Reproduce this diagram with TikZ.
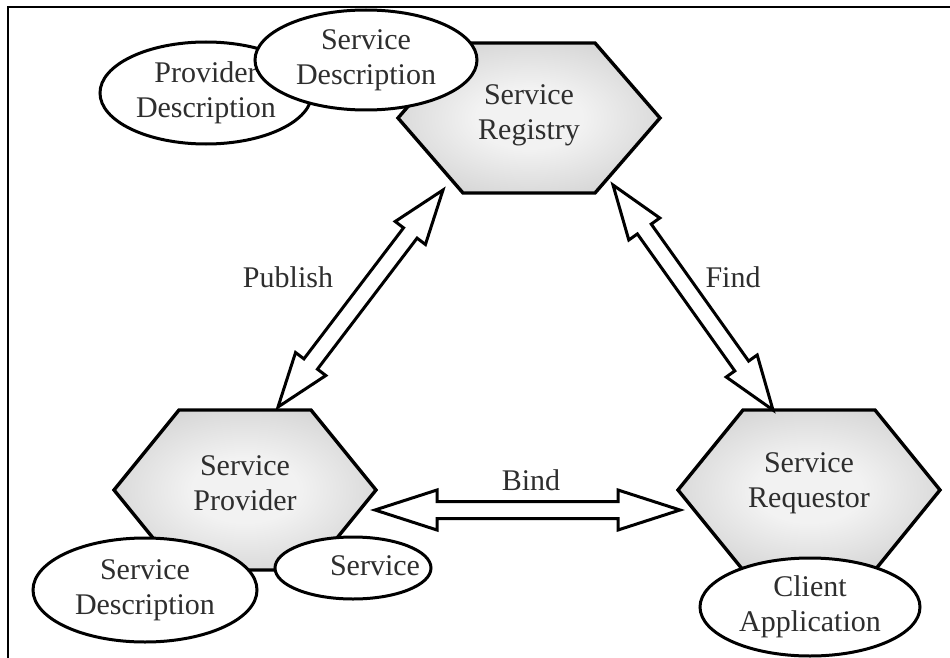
\documentclass[tikz,border=0pt]{standalone}
\usepackage{fontspec}
\setmainfont{Liberation Serif}
\usetikzlibrary{calc,shapes.geometric}

\definecolor{hexcore}{gray}{0.95}
\definecolor{hexmid}{gray}{0.85}
\definecolor{hexrim}{gray}{0.71}
\definecolor{inktext}{gray}{0.18}

% light centre fading to grey towards the hexagon border
\pgfdeclareradialshading{hexglow}{\pgfpoint{0bp}{0bp}}{%
  color(0bp)=(hexcore); color(10bp)=(hexcore); color(26bp)=(hexmid);
  color(40bp)=(hexrim); color(60bp)=(hexrim)}

\tikzset{
  lbl/.style={font=\fontsize{30}{35}\selectfont, text=inktext, align=center, inner sep=0pt},
  hexbox/.style={draw=black, line width=3.4pt, line join=miter, shading=hexglow},
  oval/.style={ellipse, draw=black, fill=white, line width=3pt, inner sep=0pt,
               font=\fontsize{30}{35}\selectfont, text=inktext, align=center},
  arrowline/.style={draw=black, fill=white, line width=3pt, line join=miter},
}

% hexagon of half width 131 (inner 66) and half height #2 around coordinate #1
\newcommand{\hexaround}[2]{%
  \shadedraw[hexbox] (#1) ++(-131,0) -- ++(65,-#2) -- ++(132,0) -- ++(65,#2)
    -- ++(-65,#2) -- ++(-132,0) -- cycle;}

% hollow double-headed block arrow between #1 and #2:
% head length #3, head half width #4, shaft half width #5
\newcommand{\blockarrow}[5]{%
  \path[arrowline] (#1)
    -- ($(#1)!#3!(#2)!#4!90:(#2)$)
    -- ($(#1)!#3!(#2)!#5!90:(#2)$)
    -- ($(#2)!#3!(#1)!#5!-90:(#1)$)
    -- ($(#2)!#3!(#1)!#4!-90:(#1)$)
    -- (#2)
    -- ($(#2)!#3!(#1)!#4!90:(#1)$)
    -- ($(#2)!#3!(#1)!#5!90:(#1)$)
    -- ($(#1)!#3!(#2)!#5!-90:(#2)$)
    -- ($(#1)!#3!(#2)!#4!-90:(#2)$)
    -- cycle;}

\begin{document}
\begin{tikzpicture}[x=1pt, y=-1pt]
  \useasboundingbox (0,0) rectangle (950,658);
  \fill[white] (0,0) rectangle (950,658);

  % frame (top and left sides)
  \draw[line width=2.8pt] (8,658) -- (8,7) -- (950,7);

  % hexagon centres
  \coordinate (regC)  at (529,118);
  \coordinate (provC) at (245,490);
  \coordinate (reqC)  at (809,490);

  \hexaround{regC}{75}
  \hexaround{provC}{80}
  \hexaround{reqC}{80}

  \node[lbl] (reg)  at ($(regC)+(0,-3)$)  {Service\\Registry};
  \node[lbl] (prov) at ($(provC)+(0,-7)$) {Service\\Provider};
  \node[lbl] (req)  at ($(reqC)+(0,-7)$)  {Service\\Requestor};

  % descriptions attached to the registry
  \node[oval, minimum width=212pt, minimum height=102pt] (provdesc) at (206,93) {Provider\\Description};
  \node[oval, minimum width=222pt, minimum height=100pt] (regsd) at (366,60) {Service\\Description};

  % artefacts of the provider and the requestor
  \node[oval, minimum width=224pt, minimum height=104pt] (provsd) at (145,590) {Service\\Description};
  \node[oval, minimum width=156pt, minimum height=62pt] (svc) at (353,568) {};
  \node[lbl] (svctext) at (375,566) {Service};
  \node[oval, minimum width=220pt, minimum height=98pt] (client) at (810,607) {Client\\Application};

  % arrow end points on the hexagons
  \coordinate (pubP)  at ($(provC)+(33,-83)$);
  \coordinate (pubR)  at ($(regC)+(-86,72)$);
  \coordinate (findR) at ($(regC)+(84,67)$);
  \coordinate (findQ) at ($(reqC)+(-36,-80)$);
  \coordinate (bindP) at ($(provC)+(130,20)$);
  \coordinate (bindQ) at ($(reqC)+(-129,20)$);

  \blockarrow{pubP}{pubR}{54pt}{19pt}{8.5pt}
  \blockarrow{findR}{findQ}{54pt}{19pt}{8.5pt}
  \blockarrow{bindP}{bindQ}{62pt}{20pt}{8.5pt}

  \node[lbl, anchor=base] (publish) at (288,287) {Publish};
  \node[lbl, anchor=base] (find)    at (733,287) {Find};
  \node[lbl, anchor=base] (bind)    at (531,490) {Bind};
\end{tikzpicture}
\end{document}
